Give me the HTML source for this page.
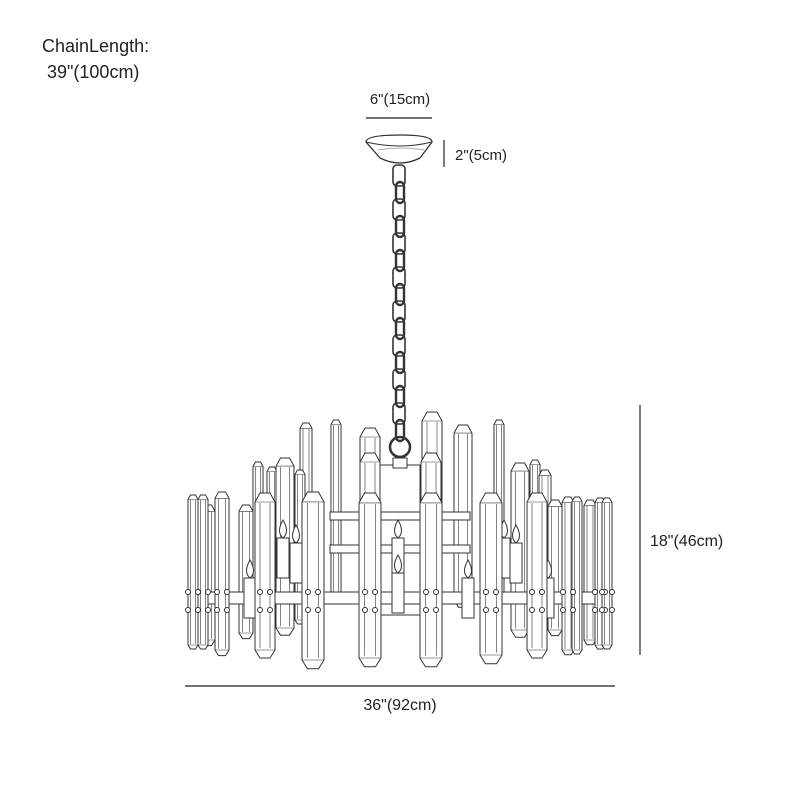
<!DOCTYPE html>
<html><head><meta charset="utf-8"><style>
html,body{margin:0;padding:0;background:#fff;}
svg{display:block;}
text{font-family:"Liberation Sans",sans-serif;fill:#222;}
</style></head><body>
<svg id="s" width="800" height="800" viewBox="0 0 800 800" xmlns="http://www.w3.org/2000/svg">
<text x="42" y="52" font-size="18">ChainLength:</text>
<text x="47" y="78" font-size="18">39"(100cm)</text>
<text x="400" y="104" font-size="15" text-anchor="middle">6"(15cm)</text>
<line x1="366" y1="118" x2="432" y2="118" stroke="#444" stroke-width="1.4"/>
<line x1="444" y1="140" x2="444" y2="167" stroke="#444" stroke-width="1.4"/>
<text x="455" y="160" font-size="15">2"(5cm)</text>
<line x1="640" y1="405" x2="640" y2="655" stroke="#444" stroke-width="1.4"/>
<text x="650" y="546" font-size="16">18"(46cm)</text>
<line x1="185" y1="686" x2="615" y2="686" stroke="#444" stroke-width="1.4"/>
<text x="400" y="710" font-size="16" text-anchor="middle">36"(92cm)</text>
<path d="M366 142 Q366 135 400 135 Q432 135 432 142 L420 158 Q400 168 380 158 Z" fill="#fff" stroke="#333" stroke-width="1.3"/>
<path d="M366 142 Q400 150 432 142" fill="none" stroke="#333" stroke-width="1"/>
<path d="M378 150 Q400 146 424 150" fill="none" stroke="#aaa"/>
<g id="chain"></g>
<circle cx="400" cy="447" r="10" fill="none" stroke="#333" stroke-width="2.5"/>
<g id="cr" stroke="#333" stroke-width="1" fill="#fff"></g>
</svg>
<script>
var ns="http://www.w3.org/2000/svg";
function el(p,t,a){var e=document.createElementNS(ns,t);for(var k in a)e.setAttribute(k,a[k]);p.appendChild(e);return e;}
var ch=document.getElementById('chain');
var i=0;
for(var y=165;y<435;y+=17){var odd=i%2;el(ch,'rect',{x:odd?396:393,y:y,width:odd?8:12,height:21,rx:4,fill:'none',stroke:'#333','stroke-width':odd?2.4:1.6});i++;}
var g=document.getElementById('cr');
function crystal(x,t,b,w){var h=w/2;
 el(g,'path',{d:'M'+(x-h)+' '+b+' L'+(x-h)+' '+(t+w*0.45)+' L'+(x-h*0.5)+' '+t+' L'+(x+h*0.5)+' '+t+' L'+(x+h)+' '+(t+w*0.45)+' L'+(x+h)+' '+b+' L'+(x+h*0.5)+' '+(b+w*0.4)+' L'+(x-h*0.5)+' '+(b+w*0.4)+' Z'});
 el(g,'path',{d:'M'+(x-h*0.5)+' '+(t+w*0.5)+' V'+(b-w*0.1)+' M'+(x+h*0.5)+' '+(t+w*0.5)+' V'+(b-w*0.1)+' M'+(x-h)+' '+(t+w*0.45)+' L'+(x+h)+' '+(t+w*0.45)+' M'+(x-h)+' '+b+' L'+(x+h)+' '+b,fill:'none','stroke-width':0.6});
}
function rect(x,y,w,h){el(g,'rect',{x:x,y:y,width:w,height:h});}
[[306,423,600,12],[336,420,600,10],[370,428,600,20],[432,412,600,20],[463,425,600,18],[499,420,600,10]].forEach(function(c){crystal.apply(null,c)});
rect(380,465,40,150);rect(393,458,14,10);
[[258,462,610,10],[272,467,610,10],[285,458,628,18],[300,470,620,10],[520,463,630,18],[535,460,610,10],[545,470,610,12],[370,453,560,20],[431,453,560,20],[208,505,640,14],[246,505,633,14],[555,500,630,14],[590,500,640,12]].forEach(function(c){crystal.apply(null,c)});
rect(190,592,420,12);rect(330,512,140,8);rect(330,545,140,8);
[[283,520],[296,525],[398,520],[398,555],[504,520],[516,525],[250,560],[548,560],[468,560]].forEach(function(c){rect(c[0]-6,c[1]+18,12,40);el(g,'path',{d:'M'+c[0]+' '+c[1]+' Q'+(c[0]+7)+' '+(c[1]+12)+' '+c[0]+' '+(c[1]+18)+' Q'+(c[0]-7)+' '+(c[1]+12)+' '+c[0]+' '+c[1]+'Z'});});
[[193,495,645,10],[203,495,645,10],[222,492,650,14],[568,497,650,12],[577,497,650,10],[600,498,645,10],[607,498,645,10]].forEach(function(c){crystal.apply(null,c)});
[[265,493,650,20],[313,492,660,22],[370,493,658,22],[431,493,658,22],[491,493,655,22],[537,493,650,20]].forEach(function(c){crystal.apply(null,c)});
[193,203,222,265,313,370,431,491,537,568,600,607].forEach(function(x){[592,610].forEach(function(y){el(g,'circle',{cx:x-5,cy:y,r:2.5});el(g,'circle',{cx:x+5,cy:y,r:2.5});});});
</script>
</body></html>
